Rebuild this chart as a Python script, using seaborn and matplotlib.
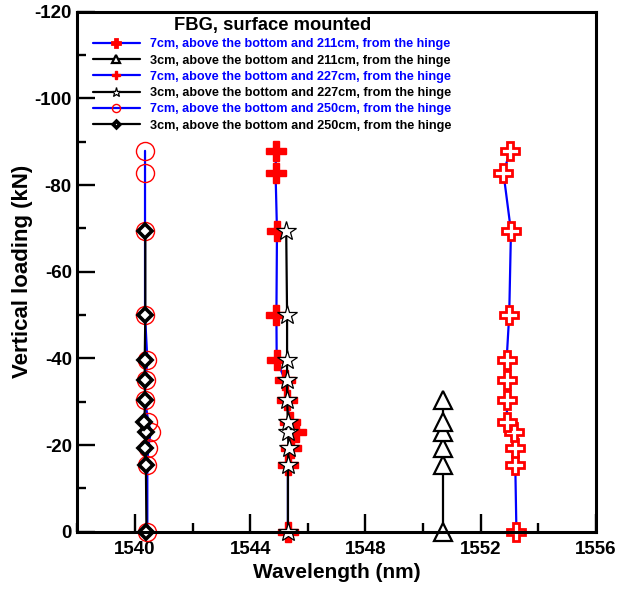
import numpy as np
import pandas as pd
import matplotlib
matplotlib.use("Agg")
import matplotlib.pyplot as plt
from matplotlib.ticker import MultipleLocator, FuncFormatter
import seaborn as sns

sns.set_style("ticks")
plt.rcParams['font.family'] = ['Liberation Sans', 'DejaVu Sans']
plt.rcParams['font.weight'] = 'bold'
plt.rcParams['axes.unicode_minus'] = False

# ---- data (vertical loading in kN, wavelength in nm) ----
load_full = [0, -15.4, -19.3, -23.1, -25.4, -30.5, -35.1, -39.7, -50.1, -69.4, -82.8, -87.9]
load_mid = [0, -15.4, -19.3, -23.1, -25.4, -30.5, -35.1, -39.7, -50.1, -69.4]
load_short = [0, -15.4, -19.3, -23.1, -25.4, -30.5]

wl_7cm_211 = [1553.24, 1553.20, 1553.20, 1553.16, 1552.91, 1552.91, 1552.91, 1552.90, 1552.99, 1553.05, 1552.79, 1553.02]
wl_3cm_211 = [1550.70, 1550.70, 1550.70, 1550.70, 1550.70, 1550.70]
wl_7cm_227 = [1545.31, 1545.31, 1545.43, 1545.60, 1545.37, 1545.28, 1545.20, 1544.92, 1544.91, 1544.93, 1544.88, 1544.90]
wl_3cm_227 = [1545.31, 1545.31, 1545.33, 1545.31, 1545.31, 1545.28, 1545.28, 1545.28, 1545.28, 1545.25]
wl_7cm_250 = [1540.43, 1540.43, 1540.46, 1540.55, 1540.46, 1540.35, 1540.37, 1540.43, 1540.35, 1540.35, 1540.35, 1540.35]
wl_3cm_250 = [1540.40, 1540.38, 1540.36, 1540.37, 1540.33, 1540.35, 1540.34, 1540.34, 1540.36, 1540.36]

labels = [
    "7cm, above the bottom and 211cm, from the hinge",
    "3cm, above the bottom and 211cm, from the hinge",
    "7cm, above the bottom and 227cm, from the hinge",
    "3cm, above the bottom and 227cm, from the hinge",
    "7cm, above the bottom and 250cm, from the hinge",
    "3cm, above the bottom and 250cm, from the hinge",
]
legend_title = "FBG, surface mounted"
x_label = "Wavelength (nm)"
y_label = "Vertical loading (kN)"

series = [
    (wl_7cm_211, load_full, dict(color="blue", marker="P", markersize=13, markerfacecolor="white",
                                 markeredgecolor="red", markeredgewidth=2.0)),
    (wl_3cm_211, load_short, dict(color="black", marker="^", markersize=13, markerfacecolor="white",
                                  markeredgecolor="black", markeredgewidth=1.6)),
    (wl_7cm_227, load_full, dict(color="blue", marker="P", markersize=14, markerfacecolor="red",
                                 markeredgecolor="red", markeredgewidth=1.0)),
    (wl_3cm_227, load_mid, dict(color="black", marker="*", markersize=15, markerfacecolor="white",
                                markeredgecolor="black", markeredgewidth=0.9)),
    (wl_7cm_250, load_full, dict(color="blue", marker="o", markersize=13, markerfacecolor="none",
                                 markeredgecolor="red", markeredgewidth=1.0)),
    (wl_3cm_250, load_mid, dict(color="black", marker="D", markersize=7.5, markerfacecolor="white",
                                markeredgecolor="black", markeredgewidth=2.6)),
]

fig = plt.figure(figsize=(6.26, 5.89), dpi=100)
ax = fig.add_axes([0.1235, 0.0973, 0.952 - 0.1235, 0.980 - 0.0973])

for (wl, ld, kw), lab in zip(series, labels):
    df = pd.DataFrame({"wl": wl, "load": ld})
    sns.lineplot(data=df, x="wl", y="load", sort=False, estimator=None, ax=ax,
                 linewidth=1.6, label=lab, **kw)
for ln in ax.get_lines():
    ln.set_clip_on(False)

ax.set_xlim(1538, 1556)
ax.set_ylim(0, -120)
ax.xaxis.set_major_locator(MultipleLocator(4))
ax.xaxis.set_minor_locator(MultipleLocator(2))
ax.yaxis.set_major_locator(MultipleLocator(20))
ax.yaxis.set_minor_locator(MultipleLocator(10))
ax.yaxis.set_major_formatter(FuncFormatter(lambda v, p: "%d" % round(v)))
ax.xaxis.set_major_formatter(FuncFormatter(lambda v, p: "%d" % round(v)))

ax.tick_params(which="both", direction="in", top=False, right=False, width=1.7,
               labelsize=13.5, colors="black")
ax.tick_params(which="major", length=13)
ax.tick_params(which="minor", length=6.5)
ax.tick_params(axis="x", which="major", pad=7)
ax.tick_params(axis="y", which="major", pad=4)
for t in ax.get_xticklabels() + ax.get_yticklabels():
    t.set_fontweight("bold")

for s in ax.spines.values():
    s.set_linewidth(2.2)
    s.set_color("black")
    s.set_visible(True)

ax.set_xlabel(x_label, fontsize=15, fontweight="bold", labelpad=3, color="black")
ax.set_ylabel(y_label, fontsize=16, fontweight="bold", labelpad=1, color="black")

leg = ax.legend(loc="upper left", bbox_to_anchor=(93 / 626, 1 - 17 / 589),
                bbox_transform=fig.transFigure, frameon=False, title=legend_title,
                prop={"size": 9.1, "weight": "bold"}, markerscale=0.45,
                handlelength=3.7, handletextpad=0.8, labelspacing=0.34, borderpad=0,
                borderaxespad=0)
leg.get_title().set_fontsize(13.2)
leg.get_title().set_fontweight("bold")
leg.get_title().set_color("black")
for txt, (_, _, kw) in zip(leg.get_texts(), series):
    txt.set_color("blue" if kw["color"] == "blue" else "black")

fig.savefig("out.png", dpi=100)
